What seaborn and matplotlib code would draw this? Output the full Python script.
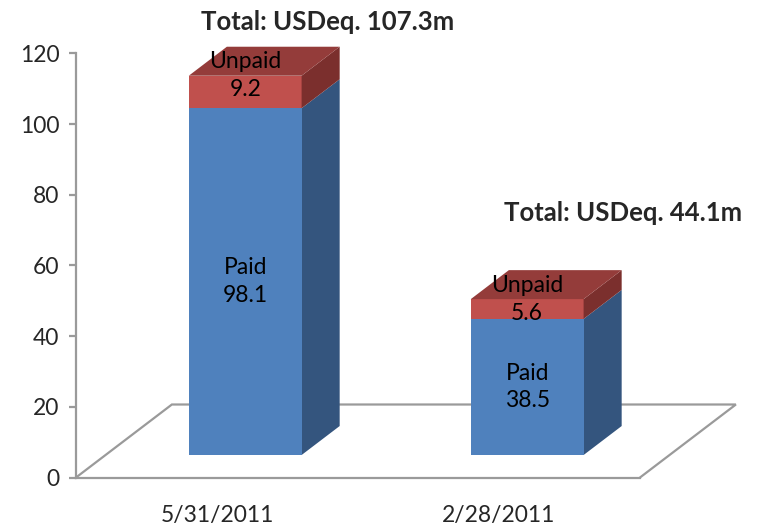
import matplotlib
matplotlib.use("Agg")
import matplotlib.pyplot as plt
from matplotlib.patches import Polygon
import seaborn as sns
import numpy as np
import pandas as pd

# ---- data ----
categories = ["5/31/2011", "2/28/2011"]
paid = [98.1, 38.5]
unpaid = [9.2, 5.6]
totals = [107.3, 44.1]
y_ticks = [0, 20, 40, 60, 80, 100, 120]

sns.set_theme(style="white")
FONT = ["Lato", "DejaVu Sans"]
plt.rcParams["font.family"] = FONT

BLUE_FRONT = "#4F81BD"
BLUE_SIDE = "#34557E"
RED_FRONT = "#C0504D"
RED_TOP = "#943C3A"
RED_SIDE = "#7B2F2D"
GRAY = "#9A9A9A"

# 3D geometry (data units)
base = 6.36          # bars stand in the middle of the floor depth
shift = 0.10         # horizontal shift of front face due to depth
bar_w = 0.40
ddx, ddy = 0.135, 8.2     # bar depth offset
fdx, fdy = 0.34, 20.65    # floor depth offset

fig = plt.figure(figsize=(7.57, 5.32), dpi=100)
ax = fig.add_axes([76 / 757, (532 - 477.5) / 532, 564 / 757, (477.5 - 53.3) / 532])

xpos = np.arange(len(categories)) + shift
df = pd.DataFrame({"x": xpos, "paid": paid, "total": totals})

# front faces via seaborn (total first = unpaid colour, then paid over it)
sns.barplot(data=df, x="x", y="total", native_scale=True, width=bar_w,
            color=RED_FRONT, saturation=1, bottom=base, ax=ax, zorder=3,
            linewidth=0)
sns.barplot(data=df, x="x", y="paid", native_scale=True, width=bar_w,
            color=BLUE_FRONT, saturation=1, bottom=base, ax=ax, zorder=4,
            linewidth=0)

# side and top faces
for xc, p, t in zip(xpos, paid, totals):
    xl, xr = xc - bar_w / 2, xc + bar_w / 2
    y0, y1, y2 = base, base + p, base + t
    ax.add_patch(Polygon([(xr, y0), (xr + ddx, y0 + ddy), (xr + ddx, y1 + ddy), (xr, y1)],
                         closed=True, facecolor=BLUE_SIDE, edgecolor="none", zorder=3, clip_on=False))
    ax.add_patch(Polygon([(xr, y1), (xr + ddx, y1 + ddy), (xr + ddx, y2 + ddy), (xr, y2)],
                         closed=True, facecolor=RED_SIDE, edgecolor="none", zorder=3, clip_on=False))
    ax.add_patch(Polygon([(xl, y2), (xl + ddx, y2 + ddy), (xr + ddx, y2 + ddy), (xr, y2)],
                         closed=True, facecolor=RED_TOP, edgecolor="none", zorder=3, clip_on=False))
    # labels
    ax.text(xc, base + p / 2, f"Paid\n{p}", ha="center", va="center", fontsize=16.5,
            color="black", linespacing=1.4, zorder=6, family=FONT)
    ax.text(xc, y2, f"Unpaid\n{t - p:.1f}", ha="center", va="center", fontsize=16.5,
            color="black", linespacing=1.4, zorder=6, family=FONT)

# floor outline (front edge is the x axis)
x0, x1 = -0.5, len(categories) - 0.5
ax.plot([x0, x0 + fdx, x1 + fdx, x1], [0, fdy, fdy, 0], color=GRAY, lw=1.6,
        zorder=1, clip_on=False, solid_joinstyle="miter")

# totals
ax.text(0.394, 128.9, f"Total: USDeq. {totals[0]}m", ha="center", va="center",
        fontsize=18.5, fontweight="bold", family=FONT, clip_on=False)
ax.text(1.44, 74.8, f"Total: USDeq. {totals[1]}m", ha="center", va="center",
        fontsize=18.5, fontweight="bold", family=FONT, clip_on=False)

# axes styling
ax.set_xlim(x0, x1)
ax.set_ylim(0, 120)
ax.set_yticks(y_ticks)
ax.set_yticklabels([str(v) for v in y_ticks], fontsize=16.5)
ax.set_xticks(np.arange(len(categories)))
ax.set_xticklabels(categories, fontsize=16.5)
ax.set_xticks(np.arange(len(categories) + 1) - 0.5, minor=True)
ax.tick_params(axis="x", which="major", length=0, pad=20)
ax.tick_params(axis="x", which="minor", length=8, width=1.6, color=GRAY, direction="out")
ax.tick_params(axis="y", length=5, width=1.6, color=GRAY, direction="out", pad=7, left=True)
ax.set_xlabel("")
ax.set_ylabel("")
for s in ["top", "right"]:
    ax.spines[s].set_visible(False)
for s in ["left", "bottom"]:
    ax.spines[s].set_color(GRAY)
    ax.spines[s].set_linewidth(1.6)
ax.patch.set_alpha(0)
ax.grid(False)

fig.savefig("out.png", dpi=100)
